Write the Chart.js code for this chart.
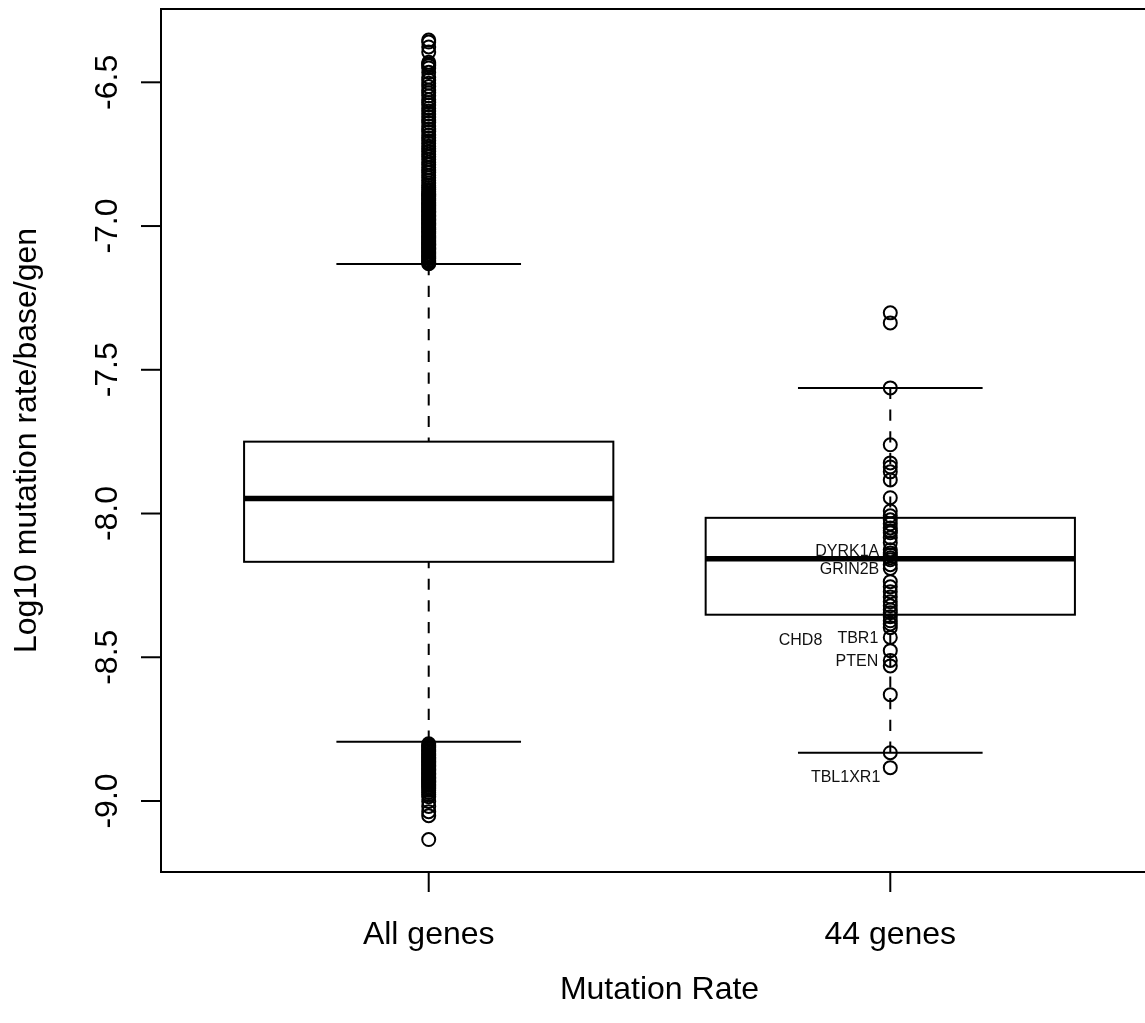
<!DOCTYPE html>
<html>
<head>
<meta charset="utf-8">
<script src="https://cdn.jsdelivr.net/npm/chart.js@4/dist/chart.umd.min.js"></script>
<style>
  html, body { margin: 0; padding: 0; background: #fff; overflow: hidden; }
  canvas { display: block; }
</style>
</head>
<body>
<canvas id="chart" width="1200" height="1023"></canvas>
<script>
// Groups on the x axis (positions 1 and 2)
const categories = ['All genes', '44 genes'];

// Box statistics per group (log10 mutation rate / base / generation)
const whiskerLow  = [-8.794, -8.832];
const lowerHinge  = [-8.168, -8.352];
const medians     = [-7.948, -8.157];
const upperHinge  = [-7.750, -8.015];
const whiskerHigh = [-7.132, -7.563];

// Outlying genes of the genome-wide distribution
const allGenesHighOutliers = [
  -6.353, -6.360, -6.377, -6.395, -6.430, -6.436, -6.442, -6.450, -6.465, -6.482,
  -6.492, -6.503, -6.515, -6.527, -6.536, -6.547, -6.561, -6.570, -6.579, -6.590,
  -6.600, -6.610, -6.621, -6.631, -6.640, -6.652, -6.662, -6.671, -6.683, -6.693,
  -6.703, -6.712, -6.722, -6.731, -6.741, -6.750, -6.759, -6.768, -6.778, -6.787,
  -6.796, -6.805, -6.814, -6.823, -6.832, -6.841, -6.850, -6.858, -6.866, -6.873,
  -6.879, -6.885, -6.889, -6.894, -6.898, -6.903, -6.907, -6.912, -6.917, -6.921,
  -6.926, -6.930, -6.935, -6.940, -6.944, -6.949, -6.953, -6.958, -6.963, -6.967,
  -6.972, -6.976, -6.981, -6.986, -6.990, -6.995, -6.999, -7.004, -7.009, -7.013,
  -7.018, -7.022, -7.027, -7.032, -7.036, -7.041, -7.045, -7.050, -7.055, -7.059,
  -7.064, -7.068, -7.073, -7.078, -7.082, -7.087, -7.091, -7.096, -7.101, -7.105,
  -7.110, -7.114, -7.119, -7.124, -7.128, -7.131
];
const allGenesLowOutliers = [
  -8.801, -8.806, -8.810, -8.815, -8.820, -8.824, -8.829, -8.834, -8.838, -8.843,
  -8.848, -8.852, -8.857, -8.862, -8.866, -8.871, -8.876, -8.880, -8.885, -8.890,
  -8.894, -8.899, -8.904, -8.908, -8.913, -8.918, -8.922, -8.927, -8.932, -8.936,
  -8.941, -8.946, -8.951, -8.957, -8.963, -8.970, -8.978, -8.985, -9.002, -9.019,
  -9.037, -9.051, -9.134
];

// Every one of the 44 selected genes
const selectedGeneRates = [
  -7.302, -7.337, -7.563, -7.761, -7.824, -7.838, -7.855, -7.883, -7.945, -7.991,
  -8.008, -8.022, -8.036, -8.050, -8.060, -8.067, -8.084, -8.102, -8.126, -8.137,
  -8.144, -8.154, -8.161, -8.178, -8.191, -8.237, -8.255, -8.272, -8.290, -8.307,
  -8.321, -8.335, -8.345, -8.359, -8.373, -8.384, -8.397, -8.431, -8.477, -8.511,
  -8.530, -8.630, -8.832, -8.884
];

// Named genes among the 44
const geneNames      = ['DYRK1A', 'GRIN2B', 'CHD8', 'TBR1', 'PTEN', 'TBL1XR1'];
const geneNameValues = [-8.128, -8.191, -8.436, -8.431, -8.511, -8.914];

// Axis ticks and titles
const yTicks = [-9.0, -8.5, -8.0, -7.5, -7.0, -6.5];
const yTickLabels = ['-9.0', '-8.5', '-8.0', '-7.5', '-7.0', '-6.5'];
const xTitle = 'Mutation Rate';
const yTitle = 'Log10 mutation rate/base/gen';

const FONT = '"Liberation Sans", Arial, Helvetica, sans-serif';
const BOX_HALF = 0.4;      // half box width in x units
const STAPLE_HALF = 0.2;   // half whisker-cap width in x units
// horizontal pixel shift of each gene name's right edge from its column
const nameShift = { DYRK1A: -11, GRIN2B: -11, CHD8: -68, TBR1: -12, PTEN: -12, TBL1XR1: -10 };

const boxPlugin = {
  id: 'boxes',
  beforeDatasetsDraw(chart) {
    const ctx = chart.ctx;
    const xs = chart.scales.x, ys = chart.scales.y;
    ctx.save();
    ctx.strokeStyle = '#000';
    categories.forEach((c, i) => {
      const pos = i + 1;
      const xl = xs.getPixelForValue(pos - BOX_HALF);
      const xr = xs.getPixelForValue(pos + BOX_HALF);
      const xc = xs.getPixelForValue(pos);
      const sl = xs.getPixelForValue(pos - STAPLE_HALF);
      const sr = xs.getPixelForValue(pos + STAPLE_HALF);
      const yLo = ys.getPixelForValue(whiskerLow[i]);
      const yQ1 = ys.getPixelForValue(lowerHinge[i]);
      const yMed = ys.getPixelForValue(medians[i]);
      const yQ3 = ys.getPixelForValue(upperHinge[i]);
      const yHi = ys.getPixelForValue(whiskerHigh[i]);

      // dashed whiskers, drawn from the whisker ends toward the box
      ctx.lineWidth = 2;
      ctx.setLineDash([11.2, 10.5]);
      ctx.beginPath(); ctx.moveTo(xc, yLo); ctx.lineTo(xc, yQ1); ctx.stroke();
      ctx.beginPath(); ctx.moveTo(xc, yHi); ctx.lineTo(xc, yQ3); ctx.stroke();
      ctx.setLineDash([]);

      // whisker caps
      ctx.beginPath();
      ctx.moveTo(sl, yLo); ctx.lineTo(sr, yLo);
      ctx.moveTo(sl, yHi); ctx.lineTo(sr, yHi);
      ctx.stroke();

      // box
      ctx.strokeRect(xl, yQ3, xr - xl, yQ1 - yQ3);

      // median
      ctx.lineWidth = 5.5;
      ctx.lineCap = 'butt';
      ctx.beginPath(); ctx.moveTo(xl, yMed); ctx.lineTo(xr, yMed); ctx.stroke();
    });
    ctx.restore();
  },
  afterDraw(chart) {
    const ctx = chart.ctx;
    const xs = chart.scales.x, ys = chart.scales.y;
    const a = chart.chartArea;
    ctx.save();
    ctx.strokeStyle = '#000';
    ctx.fillStyle = '#000';
    ctx.lineWidth = 2;

    // frame
    ctx.strokeRect(a.left, a.top, a.right - a.left, a.bottom - a.top);

    // y ticks and rotated labels
    ctx.font = '32px ' + FONT;
    yTicks.forEach((v, i) => {
      const y = ys.getPixelForValue(v);
      ctx.beginPath(); ctx.moveTo(a.left - 20, y); ctx.lineTo(a.left, y); ctx.stroke();
      ctx.save();
      ctx.translate(a.left - 44, y);
      ctx.rotate(-Math.PI / 2);
      ctx.textAlign = 'center';
      ctx.textBaseline = 'alphabetic';
      ctx.fillText(yTickLabels[i], 0, 0);
      ctx.restore();
    });

    // x ticks and labels
    categories.forEach((c, i) => {
      const x = xs.getPixelForValue(i + 1);
      ctx.beginPath(); ctx.moveTo(x, a.bottom); ctx.lineTo(x, a.bottom + 20); ctx.stroke();
      ctx.textAlign = 'center';
      ctx.textBaseline = 'alphabetic';
      ctx.fillText(c, x, a.bottom + 72);
    });

    // axis titles
    ctx.textAlign = 'center';
    ctx.fillText(xTitle, (xs.getPixelForValue(1) + xs.getPixelForValue(2)) / 2, a.bottom + 127);
    ctx.save();
    ctx.translate(36, (a.top + a.bottom) / 2);
    ctx.rotate(-Math.PI / 2);
    ctx.fillText(yTitle, 0, 0);
    ctx.restore();

    // gene names beside the 44-gene column
    ctx.font = '16px ' + FONT;
    ctx.fillStyle = '#111';
    ctx.textAlign = 'right';
    const xc2 = xs.getPixelForValue(2);
    geneNames.forEach((n, i) => {
      const y = ys.getPixelForValue(geneNameValues[i]);
      ctx.fillText(n, xc2 + nameShift[n], y + 5.7);
    });
    ctx.restore();
  }
};

const pointStyle = {
  pointStyle: 'circle',
  pointRadius: 6.5,
  pointHoverRadius: 6.5,
  pointBorderWidth: 2,
  borderColor: '#000',
  backgroundColor: 'rgba(0,0,0,0)',
  showLine: false
};

new Chart(document.getElementById('chart'), {
  type: 'scatter',
  data: {
    datasets: [
      Object.assign({ label: categories[0],
        data: allGenesHighOutliers.concat(allGenesLowOutliers).map(v => ({ x: 1, y: v })) }, pointStyle),
      Object.assign({ label: categories[1],
        data: selectedGeneRates.map(v => ({ x: 2, y: v })) }, pointStyle)
    ]
  },
  options: {
    responsive: false,
    animation: false,
    events: [],
    devicePixelRatio: 1,
    layout: { padding: { left: 161, top: 9, right: 42, bottom: 151 } },
    scales: {
      x: { type: 'linear', min: 0.42, max: 2.58, display: false },
      y: { type: 'linear', min: -9.247, max: -6.245, display: false }
    },
    plugins: { legend: { display: false }, tooltip: { enabled: false } }
  },
  plugins: [boxPlugin]
});
</script>
</body>
</html>
